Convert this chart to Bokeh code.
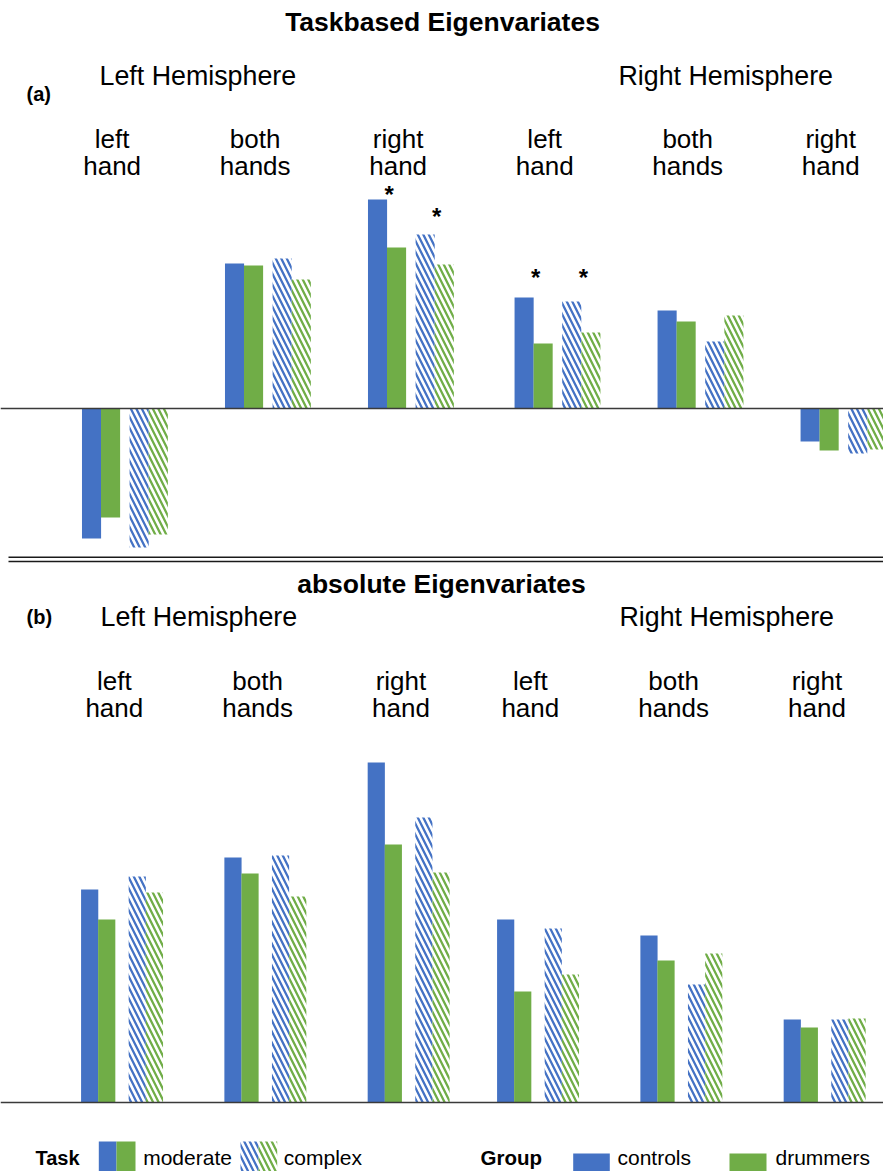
from bokeh.plotting import figure
from bokeh.models import Range1d
from bokeh.core.properties import value
from bokeh.embed import file_html
from bokeh.resources import INLINE

# ---------------- data ----------------
hand_labels = ["left hand", "both hands", "right hand", "left hand", "both hands", "right hand"]
hemisphere_labels = ["Left Hemisphere", "Right Hemisphere"]
groups = ["controls", "drummers"]
tasks = ["moderate", "complex"]

# (a) Taskbased Eigenvariates
task_controls_moderate = [-1.30, 1.45, 2.09, 1.11, 0.98, -0.33]
task_drummers_moderate = [-1.09, 1.43, 1.61, 0.65, 0.87, -0.42]
task_controls_complex = [-1.39, 1.50, 1.74, 1.07, 0.67, -0.45]
task_drummers_complex = [-1.26, 1.29, 1.44, 0.76, 0.93, -0.41]

# (b) absolute Eigenvariates
abs_controls_moderate = [2.13, 2.45, 3.40, 1.83, 1.67, 0.83]
abs_drummers_moderate = [1.83, 2.29, 2.58, 1.11, 1.42, 0.75]
abs_controls_complex = [2.26, 2.47, 2.85, 1.74, 1.18, 0.83]
abs_drummers_complex = [2.10, 2.06, 2.30, 1.28, 1.49, 0.84]

# significant group differences in (a): (hand index, task)
significant = [(2, "moderate"), (2, "complex"), (3, "moderate"), (3, "complex")]

# ---------------- style ----------------
BLUE = "#4472C4"
GREEN = "#70AD47"
FONT = value("Liberation Sans")
AXIS_COLOR = "#3a3a3a"
TEXT_SHIFT = 8  # compensation for rendered text baseline
STAR_LIFT = [-5, -18, -20, -24]  # pixel lift of each asterisk above its bar pair

W, H = 883, 1171
p = figure(width=W, height=H, output_backend="svg", toolbar_location=None, title=None,
           x_range=Range1d(-0.8706, 5.3042), y_range=Range1d(-7.63, 4.08),
           x_axis_location=None, y_axis_location=None,
           min_border=0, outline_line_color=None, background_fill_color="white")
p.grid.grid_line_color = None
p.extra_x_ranges = {"xb": Range1d(-0.8493, 5.3126), "px": Range1d(0, 883)}
p.extra_y_ranges = {"yb": Range1d(-0.69, 11.02), "py": Range1d(1171, 0)}

# group centre positions (small gap between the two hemisphere blocks)
pos_a = [i + (0.025 if i >= 3 else 0.0) for i in range(len(hand_labels))]
pos_b = [i + (-0.097 if i >= 3 else 0.0) for i in range(len(hand_labels))]

HATCH = dict(hatch_pattern="\\", hatch_scale=11, hatch_weight=2.3)


def draw_panel(pos, series, offsets, width, xr, yr):
    for (vals, grp, task), off in zip(series, offsets):
        color = BLUE if grp == "controls" else GREEN
        xs = [c + off for c in pos]
        kw = dict(x=xs, top=vals, bottom=0, width=width, line_color=None,
                  x_range_name=xr, y_range_name=yr)
        if task == "moderate":
            p.vbar(fill_color=color, **kw)
        else:
            p.vbar(fill_color="white", fill_alpha=0.0, hatch_color=color, **HATCH, **kw)
    p.segment(x0=[0], x1=[883], y0=[0], y1=[0], line_color=AXIS_COLOR, line_width=1.5,
              x_range_name="px", y_range_name=yr)


series_a = [(task_controls_moderate, "controls", "moderate"),
            (task_drummers_moderate, "drummers", "moderate"),
            (task_controls_complex, "controls", "complex"),
            (task_drummers_complex, "drummers", "complex")]
series_b = [(abs_controls_moderate, "controls", "moderate"),
            (abs_drummers_moderate, "drummers", "moderate"),
            (abs_controls_complex, "controls", "complex"),
            (abs_drummers_complex, "drummers", "complex")]

draw_panel(pos_a, series_a, [-0.234, -0.101, 0.099, 0.233], 0.1336, "default", "default")
draw_panel(pos_b, series_b, [-0.227, -0.108, 0.105, 0.225], 0.12, "xb", "yb")

# significance asterisks
sx, sy = [], []
for gi, task in significant:
    if task == "moderate":
        pair = (task_controls_moderate[gi], task_drummers_moderate[gi])
        sx.append(pos_a[gi] - 0.167)
    else:
        pair = (task_controls_complex[gi], task_drummers_complex[gi])
        sx.append(pos_a[gi] + 0.166)
    sy.append(max(pair))
p.text(x=sx, y=sy, text=["*"] * len(sx), text_font=FONT, text_font_style="bold",
       text_font_size="24px", text_align="center", text_baseline="alphabetic",
       x_offset=2, y_offset=STAR_LIFT, text_color="black")


def page_text(x, y, txt, size, bold=False, align="left", xr="px"):
    p.text(x=x, y=[v - TEXT_SHIFT for v in y], text=txt, text_font=FONT, text_font_size=size,
           text_font_style="bold" if bold else "normal", text_align=align,
           text_baseline="alphabetic", text_color="black",
           x_range_name=xr, y_range_name="py")


# panel (a) texts
page_text([442], [29.5], ["Taskbased Eigenvariates"], "26.5px", bold=True, align="center")
page_text([26], [101], ["(a)"], "20px", bold=True)
page_text([99, 618], [83.5, 83.5], hemisphere_labels, "26.8px")
page_text([c - 0.09 for c in pos_a], [146.5] * 6, [h.split()[0] for h in hand_labels], "26px",
          align="center", xr="default")
page_text([c - 0.09 for c in pos_a], [173.3] * 6, [h.split()[1] for h in hand_labels], "26px",
          align="center", xr="default")

# separator (double rule)
p.segment(x0=[8, 8], x1=[883, 883], y0=[556.7, 561], y1=[556.7, 561], line_color="#1a1a1a",
          line_width=1.4, x_range_name="px", y_range_name="py")

# panel (b) texts
page_text([441], [591.7], ["absolute Eigenvariates"], "26.5px", bold=True, align="center")
page_text([26], [624], ["(b)"], "20px", bold=True)
page_text([100, 619], [624, 624], hemisphere_labels, "26.8px")
page_text([c - 0.055 for c in pos_b], [688.5] * 6, [h.split()[0] for h in hand_labels], "26px",
          align="center", xr="xb")
page_text([c - 0.055 for c in pos_b], [715] * 6, [h.split()[1] for h in hand_labels], "26px",
          align="center", xr="xb")

# ---------------- legend ----------------
page_text([35], [1165], ["Task"], "20px", bold=True)
p.quad(left=[98.3, 116], right=[116, 135], top=[1141, 1141], bottom=[1171, 1171],
       fill_color=[BLUE, GREEN], line_color=None, x_range_name="px", y_range_name="py")
page_text([142.7], [1165], [tasks[0]], "21px")
p.quad(left=[240, 258], right=[258, 276.7], top=[1141, 1141], bottom=[1171, 1171],
       fill_color="white", fill_alpha=0.0, hatch_color=[BLUE, GREEN], **HATCH,
       line_color=None, x_range_name="px", y_range_name="py")
page_text([283.3], [1165], [tasks[1]], "21px")

page_text([480], [1165], ["Group"], "20.5px", bold=True)
p.quad(left=[572.7, 729], right=[609.3, 766], top=[1153, 1153], bottom=[1171, 1171],
       fill_color=[BLUE, GREEN], line_color=None, x_range_name="px", y_range_name="py")
page_text([617, 775], [1165, 1165], groups, "21px")

open("out.html", "w").write(file_html(p, INLINE))
